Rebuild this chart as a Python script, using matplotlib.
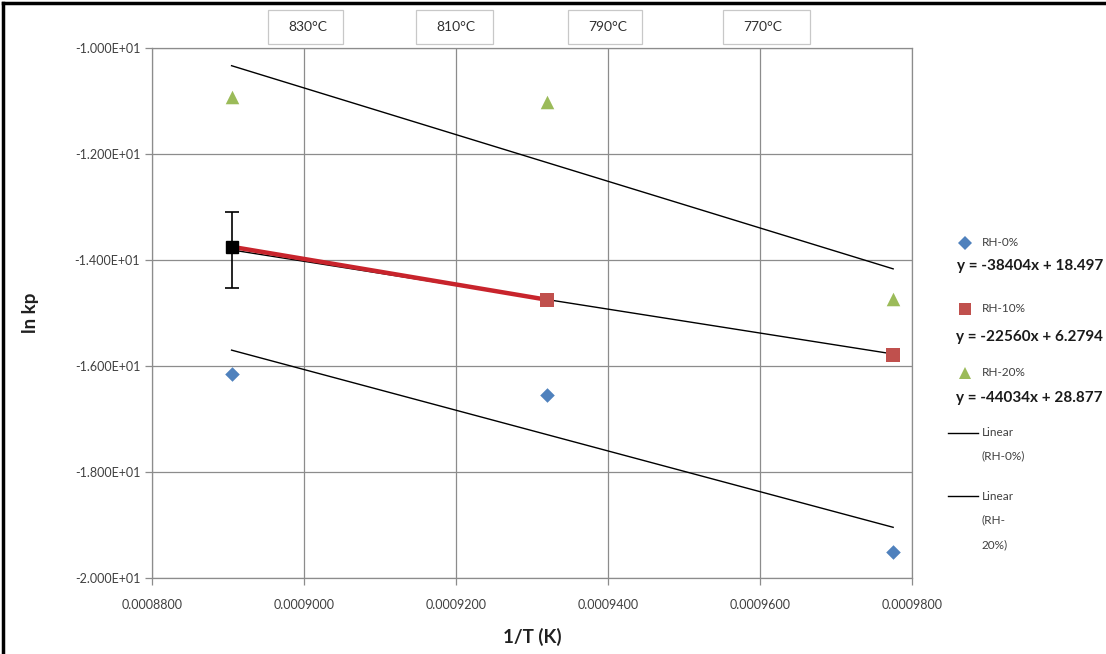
import matplotlib
matplotlib.use("Agg")
import matplotlib.pyplot as plt
from matplotlib.patches import Rectangle
from matplotlib.lines import Line2D
from matplotlib.ticker import FuncFormatter
import numpy as np

plt.rcParams['font.family'] = ['Lato', 'DejaVu Sans']

# ---- data ----
inv_T = [0.00089047, 0.00093197, 0.00097752]          # 1/T (K^-1): 850, 800, 750 °C
rh0 = [-16.15, -16.55, -19.51]
rh10 = [-13.75, -14.75, -15.79]
rh20 = [-10.92, -11.02, -14.73]
rh10_err_low = 0.78
rh10_err_high = 0.66

fit_rh0 = (-38404, 18.497)
fit_rh10 = (-22560, 6.2794)
fit_rh20 = (-44034, 28.877)

temp_labels = ["830°C", "810°C", "790°C", "770°C"]
xticks = [0.00088, 0.00090, 0.00092, 0.00094, 0.00096, 0.00098]
yticks = [-10, -12, -14, -16, -18, -20]

blue = "#4F81BD"
red = "#C0504D"
green = "#9BBB59"
redline = "#C8242C"

W, H = 1106, 654
fig = plt.figure(figsize=(W / 100, H / 100), dpi=100)
ax = fig.add_axes([152 / W, 1 - 578 / H, (912 - 152) / W, (578 - 48) / H])

# trendlines
xs = np.array([inv_T[0], inv_T[-1]])
for m, b in (fit_rh0, fit_rh10, fit_rh20):
    ax.plot(xs, m * xs + b, color="black", lw=1.0, zorder=3)

# red connecting line (first two RH-10% points)
ax.plot(inv_T[:2], rh10[:2], color=redline, lw=3.2, zorder=4, solid_capstyle="butt")

# markers
ax.scatter(inv_T, rh0, marker="D", s=55, color=blue, zorder=5, linewidths=0)
ax.scatter(inv_T[1:], rh10[1:], marker="s", s=95, color=red, zorder=5, linewidths=0)
ax.scatter(inv_T, rh20, marker="^", s=95, color=green, zorder=5, linewidths=0)
# highlighted first RH-10% point with error bar
ax.errorbar([inv_T[0]], [rh10[0]], yerr=[[rh10_err_low], [rh10_err_high]],
            fmt="s", color="black", ms=8, capsize=5, elinewidth=1.2, capthick=1.2, zorder=6)

ax.set_xlim(0.00088, 0.00098)
ax.set_ylim(-20, -10)
ax.set_xticks(xticks)
ax.set_yticks(yticks)
ax.xaxis.set_major_formatter(FuncFormatter(lambda v, p: f"{v:.7f}"))
ax.yaxis.set_major_formatter(FuncFormatter(lambda v, p: f"{v / 10:.3f}E+01"))
ax.grid(True, color="#8C8C8C", lw=0.9)
ax.set_axisbelow(True)
for s in ax.spines.values():
    s.set_color("#8C8C8C")
    s.set_linewidth(0.9)
ax.tick_params(axis="both", colors="#8C8C8C", labelcolor="#404040", labelsize=9, length=5, width=0.9)
ax.tick_params(axis="x", pad=10)
ax.set_xlabel("1/T (K)", fontsize=13.5, fontweight="bold", labelpad=12, color="#202020")
ax.set_ylabel("ln kp", fontsize=13.5, fontweight="bold", labelpad=26, color="#202020")

# temperature boxes at top
box_x = [268, 416, 568, 723]
box_w = [75, 77, 74, 87]
for lab, bx, bw in zip(temp_labels, box_x, box_w):
    fig.patches.append(Rectangle((bx / W, 1 - 44 / H), bw / W, 34 / H, transform=fig.transFigure,
                                 facecolor="white", edgecolor="#C8C8C8", lw=0.9))
    fig.text((bx + 20) / W, 1 - 27 / H, lab, fontsize=10, va="center", ha="left", color="#303030")

# legend (manual)
def fx(px):
    return px / W

def fy(py):
    return 1 - py / H

leg_items = [("D", blue, "RH-0%", 243, fit_rh0, 266),
             ("s", red, "RH-10%", 309, fit_rh10, 337),
             ("^", green, "RH-20%", 373, fit_rh20, 398)]
for mk, col, lab, py, fit, ey in leg_items:
    fig.add_artist(Line2D([fx(965)], [fy(py)], marker=mk, color=col, ms=7 if mk == "D" else 8.5,
                          mew=0, transform=fig.transFigure))
    fig.text(fx(982), fy(py), lab, fontsize=8.5, va="center", ha="left", color="#404040")
    m, b = fit
    fig.text(fx(1103), fy(ey), f"y = {m}x + {b}", fontsize=11, fontweight="bold",
             va="center", ha="right", color="#1A1A1A")

fig.add_artist(Line2D([fx(948), fx(978)], [fy(433), fy(433)], color="black", lw=1.0,
                      transform=fig.transFigure))
fig.text(fx(982), fy(433), "Linear", fontsize=8.5, va="center", ha="left", color="#404040")
fig.text(fx(982), fy(456), "(RH-0%)", fontsize=8.5, va="center", ha="left", color="#404040")
fig.add_artist(Line2D([fx(948), fx(978)], [fy(496), fy(496)], color="black", lw=1.0,
                      transform=fig.transFigure))
fig.text(fx(982), fy(497), "Linear", fontsize=8.5, va="center", ha="left", color="#404040")
fig.text(fx(982), fy(520), "(RH-", fontsize=8.5, va="center", ha="left", color="#404040")
fig.text(fx(982), fy(545), "20%)", fontsize=8.5, va="center", ha="left", color="#404040")

# outer frame (top and left edges visible)
fig.add_artist(Line2D([fx(3), fx(3)], [0, fy(3)], color="black", lw=2.5, transform=fig.transFigure))
fig.add_artist(Line2D([fx(3), 1], [fy(3), fy(3)], color="black", lw=2.5, transform=fig.transFigure))

fig.savefig("out.png", dpi=100)
